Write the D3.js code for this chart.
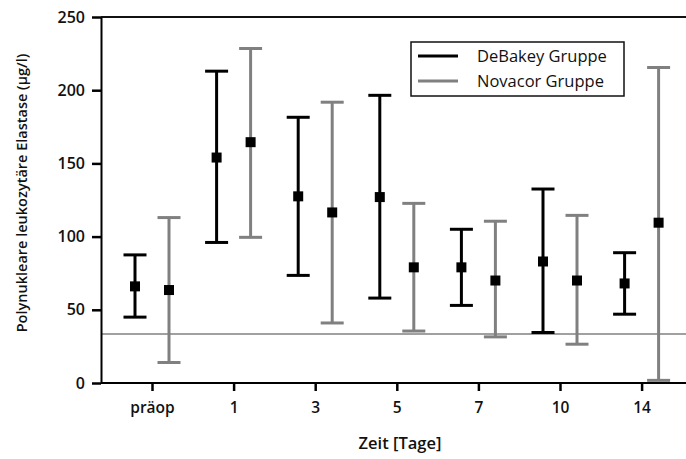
<!DOCTYPE html>
<html><head><meta charset="utf-8">
<script src="https://cdn.jsdelivr.net/npm/d3@7"></script>
<style>
body{margin:0;background:#fff;}
text{font-family:"Open Sans","Noto Sans",sans-serif;}
</style></head>
<body><svg id="c" width="686" height="459"></svg>
<script>
const categories = ["präop","1","3","5","7","10","14"];
const debakeyMean = [66, 154, 127.5, 127, 79, 83, 68];
const debakeyHigh = [87.5, 213, 181.5, 196.5, 105, 132.5, 89];
const debakeyLow  = [45, 96, 73.5, 58, 53, 34.5, 47];
const novacorMean = [63.5, 164.5, 116.5, 79, 70, 70, 109.5];
const novacorHigh = [113, 228.5, 191.8, 122.7, 110.5, 114.5, 215.5];
const novacorLow  = [14, 99.5, 41, 35.5, 31.5, 26.5, 1.8];
const yTicks = [0,50,100,150,200,250];
const refValue = 33.5;
const seriesNames = ["DeBakey Gruppe","Novacor Gruppe"];

(function(){
const svg = d3.select("#c");
const L = 101, R = 686, T = 17, B = 383;
const y = d3.scaleLinear().domain([0,250]).range([B, T]);
const x = d3.scalePoint().domain(categories).range([152, 641.6]);
const off = 17;
const black = "#000", gray = "#808080";

svg.append("line").attr("x1",L).attr("x2",R).attr("y1",T).attr("y2",T)
  .attr("stroke","#111").attr("stroke-width",2);
svg.append("line").attr("x1",L).attr("x2",R).attr("y1",y(refValue)).attr("y2",y(refValue))
  .attr("stroke",gray).attr("stroke-width",1.5);

const ya = svg.append("g").attr("transform",`translate(${L},0)`)
  .call(d3.axisLeft(y).tickValues(yTicks).tickSize(9).tickPadding(7).tickSizeOuter(0));
ya.select(".domain").attr("stroke","#000").attr("stroke-width",2);
ya.selectAll(".tick line").attr("stroke-width",2.5);
ya.selectAll("text").attr("font-size",16).attr("font-weight",600).attr("fill","#111")
  .attr("font-family","'Open Sans',sans-serif");

const xa = svg.append("g").attr("transform",`translate(0,${B})`)
  .call(d3.axisBottom(x).tickSize(8).tickPadding(11).tickSizeOuter(0));
xa.select(".domain").attr("d",`M${L},0H${R}`).attr("stroke","#000").attr("stroke-width",2);
xa.selectAll(".tick line").attr("stroke-width",2.5);
xa.selectAll("text").attr("font-size",15.5).attr("font-weight",600).attr("fill","#111")
  .attr("font-family","'Open Sans',sans-serif");

svg.append("text").attr("x",400).attr("y",449).attr("text-anchor","middle")
  .attr("font-size",16.5).attr("font-weight",600).attr("fill","#111").text("Zeit [Tage]");
svg.append("text").attr("transform",`translate(27,193) rotate(-90)`).attr("text-anchor","middle")
  .attr("font-size",14.5).attr("font-weight",600).attr("fill","#111")
  .text("Polynukleare leukozytäre Elastase (µg/l)");

function drawSeries(mean, hi, lo, color, dx){
  const g = svg.append("g");
  categories.forEach((c,i)=>{
    const cx = x(c)+dx;
    g.append("line").attr("x1",cx).attr("x2",cx).attr("y1",y(hi[i])).attr("y2",y(lo[i]))
      .attr("stroke",color).attr("stroke-width",3);
    [hi[i],lo[i]].forEach(v=>{
      g.append("line").attr("x1",cx-11.5).attr("x2",cx+11.5).attr("y1",y(v)).attr("y2",y(v))
        .attr("stroke",color).attr("stroke-width",3);
    });
  });
  categories.forEach((c,i)=>{
    const cx = x(c)+dx;
    g.append("rect").attr("x",cx-5).attr("y",y(mean[i])-5).attr("width",10).attr("height",10)
      .attr("fill","#000");
  });
}
drawSeries(debakeyMean, debakeyHigh, debakeyLow, black, -off);
drawSeries(novacorMean, novacorHigh, novacorLow, gray, off);

const lg = svg.append("g");
lg.append("rect").attr("x",411).attr("y",42).attr("width",213).attr("height",54)
  .attr("fill","#fff").attr("stroke","#111").attr("stroke-width",1.5);
[black, gray].forEach((col,i)=>{
  const ly = 56 + i*25;
  lg.append("line").attr("x1",418).attr("x2",458).attr("y1",ly).attr("y2",ly)
    .attr("stroke",col).attr("stroke-width",3);
  lg.append("text").attr("x",477).attr("y",ly+6).attr("font-size",16.5).attr("font-weight",500)
    .attr("fill","#111").text(seriesNames[i]);
});
})();
</script></body></html>
